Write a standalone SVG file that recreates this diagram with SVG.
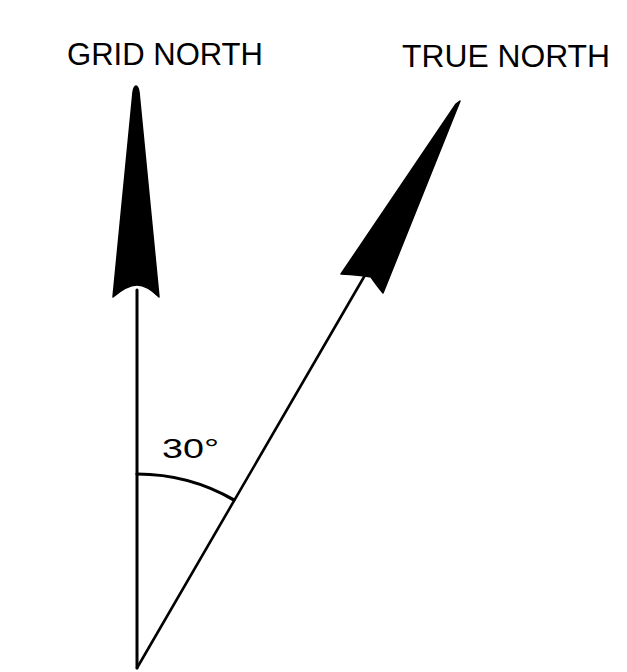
<svg xmlns="http://www.w3.org/2000/svg" width="627" height="672" viewBox="0 0 627 672">
<style>
.lbl{font-family:"Liberation Sans","DejaVu Sans",sans-serif;fill:#000}
.ln{stroke:#000;fill:none;stroke-linecap:round}
.head{fill:#000;stroke:#000;stroke-width:1.5;stroke-linejoin:round}
</style>
<rect width="627" height="672" fill="#fff"/>
<g id="connectors">
<line class="ln" x1="137" y1="668" x2="137" y2="290" stroke-width="3"/>
<line class="ln" x1="137" y1="668" x2="368" y2="270" stroke-width="2.6"/>
<path class="ln" d="M137 474 A194 194 0 0 1 234 500" stroke-width="3.2"/>
</g>
<g id="grid-north">
<path class="head" d="M136 86 Q138 86 139 92 L159 297 Q147 285 137 285 Q127 285 113 297 L133 92 Q134 86 136 86 Z"/>
<text class="lbl" x="67" y="65" font-size="31" textLength="196" lengthAdjust="spacingAndGlyphs">GRID NORTH</text>
</g>
<g id="true-north">
<path class="head" d="M460 101 L383 293 Q375 283 371 277 Q360 275 341 274 L456 104 Z"/>
<text class="lbl" x="402" y="67" font-size="31" textLength="208" lengthAdjust="spacingAndGlyphs">TRUE NORTH</text>
</g>
<g id="angle">
<text class="lbl" x="162" y="458" font-size="28" textLength="57" lengthAdjust="spacingAndGlyphs">30°</text>
</g>
</svg>
